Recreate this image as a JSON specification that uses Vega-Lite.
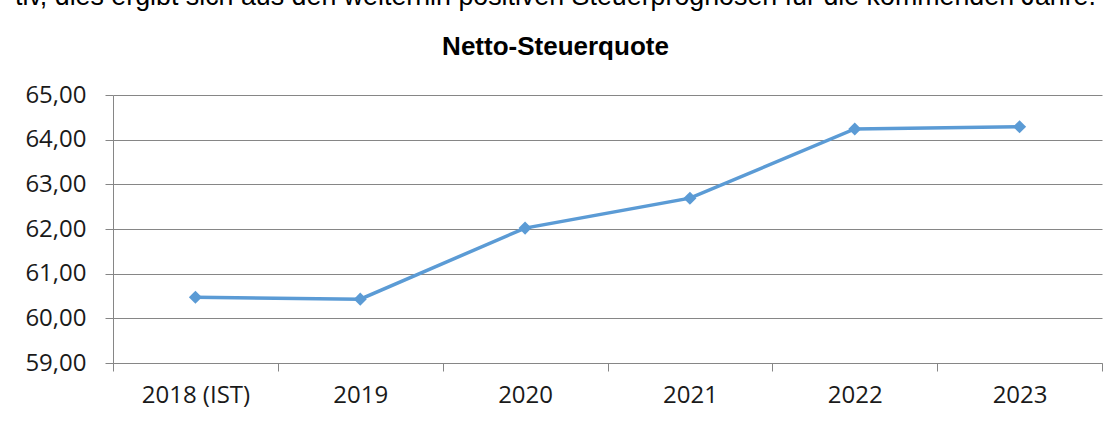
{
  "$schema": "https://vega.github.io/schema/vega-lite/v6.json",
  "autosize": {"type": "none"},
  "width": 989,
  "height": 268,
  "padding": {"left": 113, "top": 95, "right": 18, "bottom": 61},
  "background": "white",
  "title": {
    "text": "tiv, dies ergibt sich aus den weiterhin positiven Steuerprognosen für die kommenden Jahre.",
    "subtitle": "Netto-Steuerquote",
    "anchor": "middle",
    "frame": "group",
    "dx": -52,
    "offset": 23,
    "font": "Liberation Sans",
    "fontSize": 26.8,
    "fontWeight": "normal",
    "color": "black",
    "subtitleFont": "Liberation Sans",
    "subtitleFontSize": 26,
    "subtitleFontWeight": "bold",
    "subtitleColor": "black",
    "subtitlePadding": 23
  },
  "data": {
    "values": [
      {"Jahr": "2018 (IST)", "Quote": 60.47},
      {"Jahr": "2019", "Quote": 60.43},
      {"Jahr": "2020", "Quote": 62.02},
      {"Jahr": "2021", "Quote": 62.69},
      {"Jahr": "2022", "Quote": 64.24},
      {"Jahr": "2023", "Quote": 64.29}
    ]
  },
  "mark": {"type": "line", "color": "#5B9BD5", "strokeWidth": 3.5, "point": {"shape": "diamond", "size": 170, "filled": true, "color": "#5B9BD5", "opacity": 1}},
  "encoding": {
    "x": {
      "field": "Jahr",
      "type": "nominal",
      "sort": null,
      "scale": {"type": "band", "paddingInner": 0, "paddingOuter": 0},
      "axis": {
        "title": null,
        "labelAngle": 0,
        "tickBand": "extent",
        "grid": false,
        "domainColor": "#868686",
        "tickColor": "#868686",
        "tickSize": 8,
        "labelPadding": 12,
        "labelFont": "Open Sans",
        "labelFontSize": 24,
        "labelColor": "#1a1a1a"
      }
    },
    "y": {
      "field": "Quote",
      "type": "quantitative",
      "scale": {"domain": [59, 65], "nice": false, "zero": false},
      "axis": {
        "title": null,
        "values": [59, 60, 61, 62, 63, 64, 65],
        "labelExpr": "replace(format(datum.value, '.2f'), '.', ',')",
        "grid": true,
        "gridColor": "#868686",
        "gridWidth": 1,
        "domainColor": "#868686",
        "tickColor": "#868686",
        "tickSize": 8,
        "labelPadding": 19,
        "labelFont": "Open Sans",
        "labelFontSize": 24,
        "labelColor": "#1a1a1a"
      }
    }
  },
  "config": {"view": {"stroke": null}}
}
